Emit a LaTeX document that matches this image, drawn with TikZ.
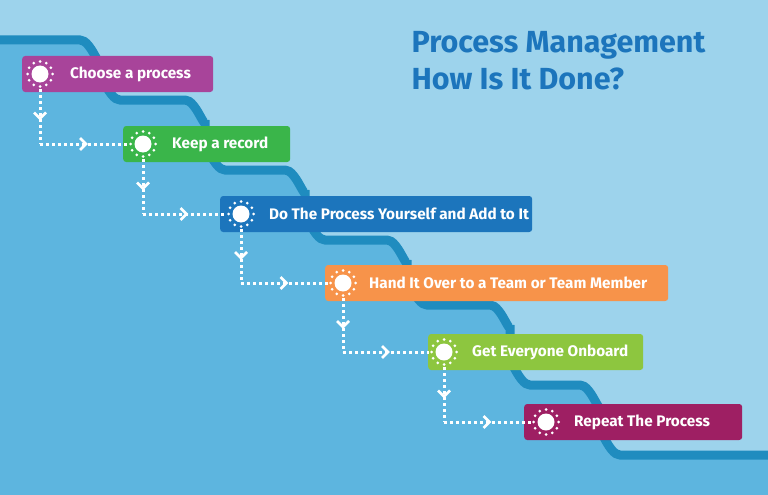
\documentclass[tikz,border=0pt]{standalone}
\usepackage{fontspec}
\setmainfont{Fira Sans}
\usetikzlibrary{positioning,decorations.markings,arrows.meta}
\definecolor{skylight}{HTML}{9DD3EC}
\definecolor{skydark}{HTML}{5DB5DF}
\definecolor{stairline}{HTML}{1F8CBF}
\definecolor{titleblue}{HTML}{1C75BC}
\definecolor{cpurple}{HTML}{A8449A}
\definecolor{cgreen}{HTML}{3AB54A}
\definecolor{cblue}{HTML}{1C75BC}
\definecolor{corange}{HTML}{F7934A}
\definecolor{clime}{HTML}{8DC63F}
\definecolor{cmagenta}{HTML}{9E1F63}
\tikzset{
  stepbox/.style={rectangle,rounded corners=3pt,minimum height=36pt,inner sep=0pt,anchor=west},
  steptext/.style={text=white,font=\fontsize{15.3}{18}\selectfont\bfseries,inner sep=0pt,anchor=west},
  sun/.style={circle,fill=white,minimum size=17pt,inner sep=0pt},
  link/.style={white,line width=3pt,dash pattern=on 3pt off 3pt,
    postaction={decorate},decoration={markings,mark=at position 0.5 with
    {\draw[white,line width=2.5pt,solid] (-4pt,-6pt) -- (2pt,0) -- (-4pt,6pt);}}}
}
\begin{document}
\begin{tikzpicture}[x=1pt,y=-1pt]
\fill[skylight] (0,0) rectangle (768,495);
\useasboundingbox (0,0) rectangle (768,495);
% lower stair area
\def\stairs{(0,40) -- (80,40) to[out=0,in=-90] (100,60) -- (100,80) to[out=90,in=180] (120,100)
  -- (185,100) to[out=0,in=-90] (205,120) -- (205,150) to[out=90,in=180] (225,170)
  -- (285,170) to[out=0,in=-90] (305,190) -- (305,220) to[out=90,in=180] (325,240)
  -- (387,240) to[out=0,in=-90] (407,260) -- (407,285) to[out=90,in=180] (427,305)
  -- (490,305) to[out=0,in=-90] (510,325) -- (510,365) to[out=90,in=180] (530,385)
  -- (580,385) to[out=0,in=-90] (600,405) -- (600,435) to[out=90,in=180] (620,455)
  -- (768,455)}
\fill[skydark] \stairs -- (768,495) -- (0,495) -- cycle;
\draw[stairline,line width=9pt] \stairs;
% title
\node[anchor=north west,align=left,text=titleblue,font=\fontsize{30.5}{37}\selectfont\bfseries]
  (title) at (408,28) {Process Management\\How Is It Done?};
% steps
\foreach \n/\x/\y/\w/\col in {1/22/74/191/cpurple,2/123/144/167/cgreen,3/220/214/312/cblue,
  4/325/283/343/corange,5/428/352/215/clime,6/524/422/218/cmagenta}{
  \node[stepbox,fill=\col,minimum width=\w pt] (s\n) at (\x,\y) {};
}
\node[steptext] (t1) at (70,74) {Choose a process};
\node[steptext] (t2) at (172,144) {Keep a record};
\node[steptext] (t3) at (269,214) {Do The Process Yourself and Add to It};
\node[steptext] (t4) at (369,283) {Hand It Over to a Team or Team Member};
\node[steptext] (t5) at (472,352) {Get Everyone Onboard};
\node[steptext] (t6) at (574,422) {Repeat The Process};
% sun markers
\foreach \n/\x/\y in {1/40/74,2/143/144,3/241/214,4/343/283,5/444/352,6/546/422}{
  \node[sun] (c\n) at (\x,\y) {};
  \foreach \a in {0,30,...,330}
    \fill[white] (c\n.center) ++(\a:12.5pt) circle (1.5pt);
}
% links
\foreach \i/\j in {1/2,2/3,3/4,4/5,5/6}{
  \coordinate (k\i) at (c\i |- c\j);
  \draw[link] ([yshift=-15pt]c\i.center) -- (k\i);
  \draw[link] (k\i) -- ([xshift=-15pt]c\j.center);
}
\end{tikzpicture}
\end{document}
